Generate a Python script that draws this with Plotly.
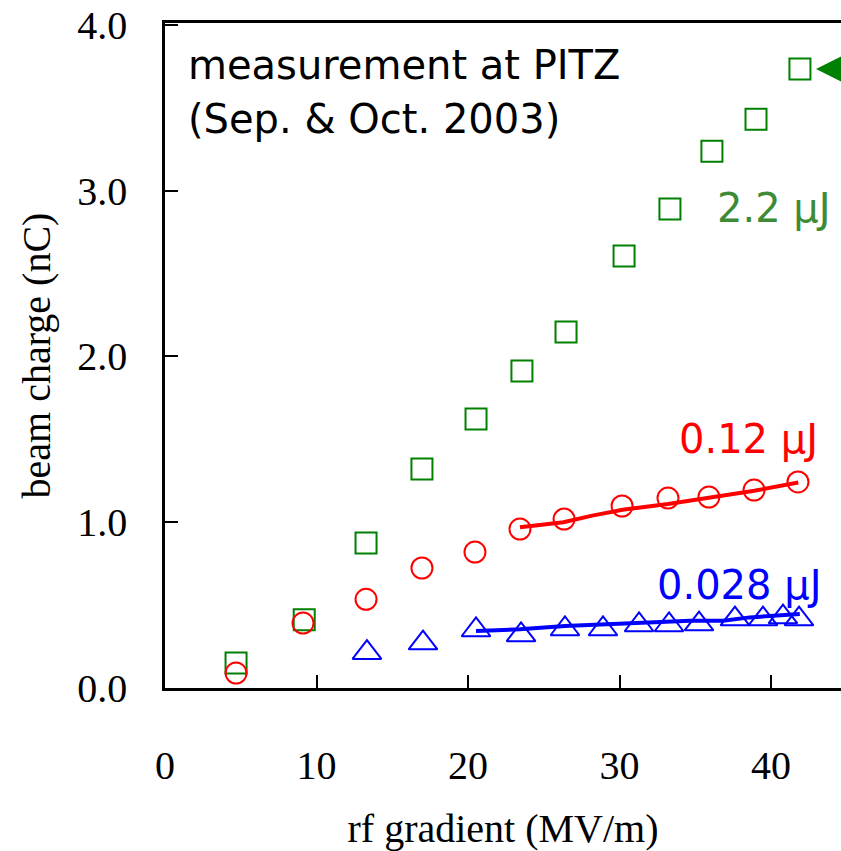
import plotly.graph_objects as go

# ---- data ----
green_x = [4.69, 9.19, 13.27, 16.96, 20.53, 23.56, 26.47, 30.3, 33.33, 36.1, 39.01, 41.91]
green_y = [0.151, 0.412, 0.875, 1.321, 1.623, 1.912, 2.148, 2.606, 2.89, 3.239, 3.432, 3.734]

red_x = [4.69, 9.11, 13.27, 16.96, 20.46, 23.43, 26.34, 30.17, 33.2, 35.9, 38.88, 41.78]
red_y = [0.09, 0.392, 0.535, 0.724, 0.82, 0.959, 1.019, 1.098, 1.146, 1.152, 1.194, 1.243]

red_fit_x = [23.43, 26.3, 28.2, 30.2, 33.2, 35.9, 38.9, 41.8]
red_fit_y = [0.97, 1.0, 1.04, 1.075, 1.11, 1.15, 1.19, 1.24]

blue_x = [13.33, 17.03, 20.53, 23.5, 26.4, 28.91, 31.29, 33.27, 35.25, 37.62, 39.47, 40.79, 41.85]
blue_y = [0.213, 0.271, 0.35, 0.32, 0.356, 0.356, 0.38, 0.38, 0.386, 0.416, 0.416, 0.428, 0.416]

blue_fit_x = [20.53, 23.43, 26.4, 28.9, 31.35, 34.65, 36.83, 38.6, 41.9]
blue_fit_y = [0.344, 0.354, 0.374, 0.384, 0.396, 0.406, 0.406, 0.426, 0.446]

x_ticks = [0, 10, 20, 30, 40]
y_ticks = [0.0, 1.0, 2.0, 3.0, 4.0]
y_tick_text = ["0.0", "1.0", "2.0", "3.0", "4.0"]

GREEN = "#008000"
GREEN_TXT = "#3d8b37"
RED = "#ff0000"
BLUE = "#0000ff"
SERIF = "Liberation Serif, Times New Roman, serif"
SANS = "DejaVu Sans, sans-serif"

fig = go.Figure()

fig.add_trace(go.Scatter(x=red_fit_x, y=red_fit_y, mode="lines",
                         line=dict(color=RED, width=4), showlegend=False))
fig.add_trace(go.Scatter(x=blue_fit_x, y=blue_fit_y, mode="lines",
                         line=dict(color=BLUE, width=4), showlegend=False))

fig.add_trace(go.Scatter(x=green_x, y=green_y, mode="markers",
                         marker=dict(symbol="square-open", size=21, color=GREEN,
                                     line=dict(width=2, color=GREEN)),
                         showlegend=False, cliponaxis=False))
fig.add_trace(go.Scatter(x=red_x, y=red_y, mode="markers",
                         marker=dict(symbol="circle-open", size=21, color=RED,
                                     line=dict(width=2, color=RED)),
                         showlegend=False, cliponaxis=False))
fig.add_trace(go.Scatter(x=blue_x, y=blue_y, mode="markers",
                         marker=dict(symbol="triangle-up-open", size=25, color=BLUE,
                                     line=dict(width=2, color=BLUE)),
                         showlegend=False, cliponaxis=False))

annotations = [
    dict(x=1.39, y=3.761, xref="x", yref="y", text="measurement at PITZ", showarrow=False,
         xanchor="left", yanchor="middle", font=dict(family=SANS, size=40, color="black")),
    dict(x=1.39, y=3.432, xref="x", yref="y", text="(Sep. & Oct. 2003)", showarrow=False,
         xanchor="left", yanchor="middle", font=dict(family=SANS, size=40, color="black")),
    dict(x=44.09, y=2.896, xref="x", yref="y", text="2.2 μJ", showarrow=False,
         xanchor="right", yanchor="middle", font=dict(family=SANS, size=40, color=GREEN_TXT)),
    dict(x=43.23, y=1.502, xref="x", yref="y", text="0.12 μJ", showarrow=False,
         xanchor="right", yanchor="middle", font=dict(family=SANS, size=40, color=RED)),
    dict(x=43.43, y=0.621, xref="x", yref="y", text="0.028 μJ", showarrow=False,
         xanchor="right", yanchor="middle", font=dict(family=SANS, size=40, color=BLUE)),
    dict(x=42.97, y=3.734, xref="x", yref="y", text="", showarrow=True,
         ax=70, ay=0, arrowhead=2, arrowsize=2.5, arrowwidth=3.5, arrowcolor=GREEN, standoff=0),
]

fig.update_layout(
    width=841, height=851,
    margin=dict(l=165, r=0, t=23, b=163),
    paper_bgcolor="white", plot_bgcolor="white",
    annotations=annotations,
    xaxis=dict(range=[0, 44.62], tickvals=x_ticks, ticks="inside", ticklen=13, tickwidth=2,
               tickcolor="black", showline=True, linecolor="black", linewidth=2.5, mirror=True,
               showgrid=False, zeroline=False,
               tickfont=dict(family=SERIF, size=40, color="black"), ticklabelstandoff=40,
               title=dict(text="rf gradient (MV/m)", font=dict(family=SERIF, size=40, color="black"),
                          standoff=30)),
    yaxis=dict(range=[0, 4.012], tickvals=y_ticks, ticktext=y_tick_text, ticks="inside",
               ticklen=13, tickwidth=2, tickcolor="black", showline=True, linecolor="black",
               linewidth=2.5, showgrid=False, zeroline=False,
               tickfont=dict(family=SERIF, size=40, color="black"), ticklabelstandoff=27,
               title=dict(text="beam charge (nC)", font=dict(family=SERIF, size=40, color="black"),
                          standoff=15)),
)

fig.write_html("out.html")
